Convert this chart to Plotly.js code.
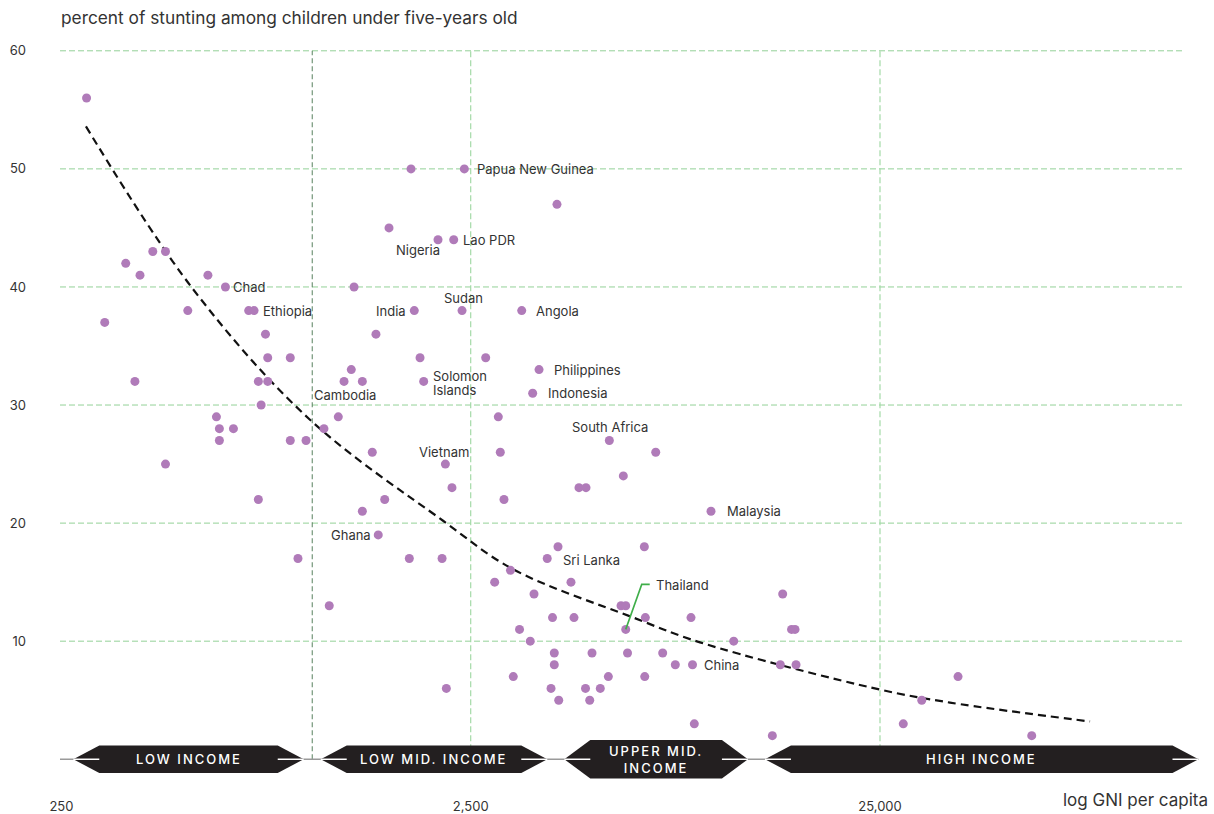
<!DOCTYPE html>
<html>
<head>
<meta charset="utf-8">
<script src="https://cdn.plot.ly/plotly-3.0.1.min.js"></script>
<style>
html,body{margin:0;padding:0;background:#fff;}
#chart{width:1214px;height:814px;}
</style>
</head>
<body>
<div id="chart"></div>
<script>
// ---------- DATA ----------
// GNI per capita (US$) of each country
const gniPerCapita = [288,319,359,378,389,418,449,449,509,570,598,608,608,629,658,717,739,757,757,769,
  788,798,798,906,906,946,990,1095,1128,1187,1226,1277,1297,1359,1359,1437,1467,1486,1541,1579,
  1770,1787,1820,1880,1919,2080,2128,2168,2180,2250,2272,2381,2412,2720,2861,2920,2953,3015,3127,3177,
  3290,3331,3495,3543,3570,3672,3845,3928,3961,4001,4001,4062,4085,4102,4395,4470,4597,4769,4782,4883,
  4947,5183,5423,5453,5824,5900,5980,5980,6041,6640,6655,6678,7079,7362,7904,8633,8707,8796,9662,10978,
  13643,14269,14461,15200,15500,15588,28500,31620,38780,58700];
// percent of stunting among children under five
const stuntingPct = [56,37,42,32,41,43,43,25,38,41,29,28,27,40,28,38,38,32,22,30,
  36,34,32,34,27,17,27,28,13,29,32,33,40,32,21,26,36,19,22,45,
  17,50,38,34,32,44,17,25,6,23,44,38,50,34,15,29,26,22,16,7,
  11,38,10,31,14,33,17,6,12,9,8,47,18,5,15,12,23,6,23,5,
  9,6,7,27,13,24,13,11,9,18,7,12,26,9,8,12,8,3,21,10,
  2,8,14,11,11,8,3,5,7,2];

// labelled countries
const labelNames = ['Chad','Ethiopia','Cambodia','Ghana','Nigeria','India','Solomon','Islands','Vietnam','Lao PDR',
  'Sudan','Papua New Guinea','Angola','Indonesia','Philippines','Sri Lanka','South Africa','Thailand','China','Malaysia'];
const labelGni = [629,739,1226,1486,2080,1820,1919,1919,2168,2272,2381,2412,3331,3543,3672,3845,5453,5980,8707,9662];
const labelPct = [40,38,32,19,44,38,32,32,25,44,38,50,38,31,33,17,27,11,8,21];

// fitted trend
const trendGni = [287,522,1009,2140,3170,6240,9080,25000,37060,81500];
const trendPct = [53.6,39.9,28.8,20.2,16.1,12.0,9.9,5.9,4.8,3.2];

// income group thresholds (GNI per capita)
const incomeThresholds = [1025, 4035, 12475];
const incomeGroups = ['LOW INCOME','LOW MID. INCOME','UPPER MID.<br>INCOME','HIGH INCOME'];

// axis ticks
const xTickVals = [250, 2500, 25000];
const xTickText = ['250', '2,500', '25,000'];
const yTickVals = [10, 20, 30, 40, 50, 60];

// ---------- LAYOUT / STYLE ----------
const FONT = 'Inter, "Noto Sans", Roboto, sans-serif';
const TXT = '#333333';
const PURPLE = '#b07bb9';
const PX_PER_DEC = 409.3;
const xRange = [2.3945, 5.2042];
const yRange = [-2.18, 61];

const labelPlace = {
  'Chad':            {xanchor:'left',  xshift:6,  yshift:0},
  'Ethiopia':        {xanchor:'left',  xshift:7,  yshift:0},
  'Cambodia':        {xanchor:'center',xshift:1,  yshift:-14},
  'Ghana':           {xanchor:'right', xshift:-5, yshift:0},
  'Nigeria':         {xanchor:'right', xshift:4,  yshift:-10},
  'India':           {xanchor:'right', xshift:-6, yshift:0},
  'Solomon':         {xanchor:'left',  xshift:7,  yshift:5},
  'Islands':         {xanchor:'left',  xshift:7,  yshift:-9},
  'Vietnam':         {xanchor:'center',xshift:-1, yshift:12},
  'Lao PDR':         {xanchor:'left',  xshift:7,  yshift:0},
  'Sudan':           {xanchor:'center',xshift:1,  yshift:13},
  'Papua New Guinea':{xanchor:'left',  xshift:11, yshift:0},
  'Angola':          {xanchor:'left',  xshift:12, yshift:0},
  'Indonesia':       {xanchor:'left',  xshift:13, yshift:0},
  'Philippines':     {xanchor:'left',  xshift:13, yshift:0},
  'Sri Lanka':       {xanchor:'left',  xshift:14, yshift:-1},
  'South Africa':    {xanchor:'center',xshift:1,  yshift:13},
  'Thailand':        {xanchor:'left',  xshift:28, yshift:44},
  'China':           {xanchor:'left',  xshift:9,  yshift:0},
  'Malaysia':        {xanchor:'left',  xshift:14, yshift:0}
};

const traces = [
  {
    x: trendGni, y: trendPct, type: 'scatter', mode: 'lines',
    line: {color: '#111111', width: 2.2, dash: '8px,5px', shape: 'spline', smoothing: 1},
    hoverinfo: 'skip'
  },
  {
    x: gniPerCapita, y: stuntingPct, type: 'scatter', mode: 'markers',
    marker: {color: PURPLE, size: 9, line: {width: 0}},
    hoverinfo: 'skip'
  }
];

const shapes = [];
// horizontal gridlines
yTickVals.forEach(v => shapes.push({
  type: 'line', layer: 'below', xref: 'paper', yref: 'y',
  x0: 0, x1: (1183 - 60) / 1150, y0: v, y1: v,
  line: {color: '#93d197', width: 1, dash: '6px,3px'}
}));
// vertical decade lines
[2500, 25000].forEach(v => shapes.push({
  type: 'line', layer: 'below', xref: 'x', yref: 'y',
  x0: v, x1: v, y0: 0, y1: 60,
  line: {color: '#a4daa7', width: 1.2, dash: '6px,3px'}
}));
// low income threshold line
shapes.push({
  type: 'line', layer: 'below', xref: 'x', yref: 'y',
  x0: incomeThresholds[0], x1: incomeThresholds[0], y0: 0, y1: 60,
  line: {color: '#56805e', width: 1, dash: '5px,3px'}
});

// income bands
const leftEnd = xRange[0] + 13.3 / PX_PER_DEC;
const rightEnd = Math.log10(150000);
const edges = [leftEnd].concat(incomeThresholds.map(t => Math.log10(t))).concat([rightEnd]);
const gap = 8.5 / PX_PER_DEC;
const slant = 26 / PX_PER_DEC;
const p = v => Math.pow(10, v).toFixed(3);

// axis line under the bands
shapes.push({
  type: 'line', layer: 'above', xref: 'x', yref: 'y',
  x0: Math.pow(10, xRange[0]), x1: Math.pow(10, rightEnd), y0: 0, y1: 0,
  line: {color: '#9a9a9a', width: 1.5}
});

const annotations = [];
incomeGroups.forEach((g, i) => {
  const tipL = i === 0 ? edges[0] : edges[i] + gap;
  const tipR = i === incomeGroups.length - 1 ? edges[i + 1] : edges[i + 1] - gap;
  const cL = tipL + slant, cR = tipR - slant;
  const h = g.indexOf('<br>') >= 0 ? 1.63 : 1.16;
  shapes.push({
    type: 'path', layer: 'above', xref: 'x', yref: 'y',
    path: `M${p(tipL)},0 L${p(cL)},${h} L${p(cR)},${h} L${p(tipR)},0 L${p(cR)},${-h} L${p(cL)},${-h} Z`,
    fillcolor: '#231f20', line: {width: 0}
  });
  [[tipL, cL], [cR, tipR]].forEach(seg => shapes.push({
    type: 'line', layer: 'above', xref: 'x', yref: 'y',
    x0: Math.pow(10, seg[0]), x1: Math.pow(10, seg[1]), y0: 0, y1: 0,
    line: {color: '#ffffff', width: 1.5}
  }));
  annotations.push({
    xref: 'x', yref: 'y', x: (tipL + tipR) / 2, y: 0,
    text: g, showarrow: false, xanchor: 'center', yanchor: 'middle',
    font: {family: FONT, size: 13, color: '#ffffff', weight: 500}
  });
});

// country labels
labelNames.forEach((n, i) => {
  const pl = labelPlace[n];
  annotations.push({
    xref: 'x', yref: 'y', x: Math.log10(labelGni[i]), y: labelPct[i],
    text: n, showarrow: false, xanchor: pl.xanchor, yanchor: 'middle',
    xshift: pl.xshift, yshift: pl.yshift,
    font: {family: FONT, size: 13, color: TXT}
  });
});

// Thailand leader
const thIdx = labelNames.indexOf('Thailand');
shapes.push({
  type: 'path', layer: 'above', xref: 'x', yref: 'y',
  xsizemode: 'pixel', ysizemode: 'pixel',
  xanchor: labelGni[thIdx], yanchor: labelPct[thIdx],
  path: 'M0,0 L16,45 L24,45',
  line: {color: '#3fae49', width: 1.6}
});

// x axis title
annotations.push({
  xref: 'paper', yref: 'paper', x: 1, y: 0, xanchor: 'right', yanchor: 'middle',
  yshift: -15, text: 'log GNI per capita', showarrow: false,
  font: {family: FONT, size: 17, color: TXT}
});

const layout = {
  width: 1214, height: 814,
  margin: {l: 60, r: 4, t: 39, b: 29},
  paper_bgcolor: '#ffffff', plot_bgcolor: '#ffffff',
  showlegend: false, hovermode: false,
  font: {family: FONT, color: TXT},
  title: {
    text: 'percent of stunting among children under five-years old',
    font: {family: FONT, size: 17.3, color: TXT},
    xref: 'container', x: 61 / 1214, xanchor: 'left',
    yref: 'container', y: 1 - 18 / 814, yanchor: 'middle'
  },
  xaxis: {
    type: 'log', range: xRange, tickvals: xTickVals, ticktext: xTickText,
    showgrid: false, zeroline: false, showline: false,
    ticks: 'outside', ticklen: 9, tickcolor: 'rgba(0,0,0,0)',
    tickfont: {family: FONT, size: 13, color: TXT}, fixedrange: true
  },
  yaxis: {
    range: yRange, tickvals: yTickVals, showgrid: false, zeroline: false, showline: false,
    ticks: '', ticklabelstandoff: 33,
    tickfont: {family: FONT, size: 13, color: TXT}, fixedrange: true
  },
  shapes: shapes,
  annotations: annotations
};

Plotly.newPlot('chart', traces, layout, {displayModeBar: false, staticPlot: true}).then(() => {
  document.querySelectorAll('.annotation-text').forEach(t => {
    if (/^[A-Z .]+$/.test(t.textContent)) t.style.letterSpacing = '2px';
  });
});
</script>
</body>
</html>
